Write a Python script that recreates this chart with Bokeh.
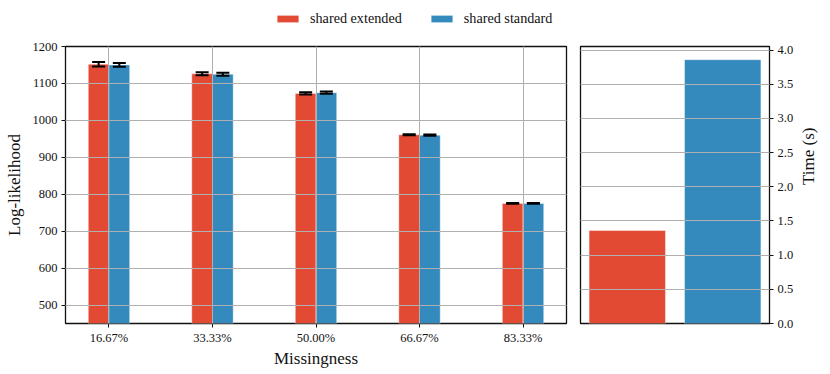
import math
from bokeh.plotting import figure
from bokeh.models import (ColumnDataSource, Range1d, FixedTicker, Whisker, TeeHead,
                          Legend, LegendItem, PrintfTickFormatter)
from bokeh.layouts import row, column
from bokeh.embed import file_html
from bokeh.resources import INLINE

# ---- data ----
categories = ["16.67%", "33.33%", "50.00%", "66.67%", "83.33%"]
ext_ll = [1152, 1126, 1073, 961, 775]
ext_err = [6, 4, 3, 1.5, 1]
std_ll = [1150, 1125, 1075, 960, 775]
std_err = [5, 4, 3, 1.5, 1]
methods = ["shared extended", "shared standard"]
times = [1.36, 3.86]
ll_ticks = [500, 600, 700, 800, 900, 1000, 1100, 1200]
time_ticks = [0.0, 0.5, 1.0, 1.5, 2.0, 2.5, 3.0, 3.5, 4.0]

FONT = "Liberation Serif"
RED = "#E24A33"
BLUE = "#348ABD"
GRID = "#b0b0b0"
COLORS = [RED, BLUE]

idx = list(range(len(categories)))
src_e = ColumnDataSource(dict(
    x=[i - 0.1 for i in idx], top=ext_ll,
    upper=[v + e for v, e in zip(ext_ll, ext_err)],
    lower=[v - e for v, e in zip(ext_ll, ext_err)]))
src_s = ColumnDataSource(dict(
    x=[i + 0.1 for i in idx], top=std_ll,
    upper=[v + e for v, e in zip(std_ll, std_err)],
    lower=[v - e for v, e in zip(std_ll, std_err)]))
tsrc = ColumnDataSource(dict(x=[0, 1], top=times, color=COLORS, name=methods))


def style(p):
    p.outline_line_color = "#111111"
    p.outline_line_width = 1.3
    for ax in p.axis:
        ax.axis_line_color = None
        ax.major_tick_line_color = "#111111"
        ax.major_tick_out = 4
        ax.major_tick_in = 0
        ax.minor_tick_line_color = None
        ax.major_label_text_font = FONT
        ax.major_label_text_font_size = "12.5px"
        ax.major_label_text_color = "#111111"
        ax.axis_label_text_font = FONT
        ax.axis_label_text_font_size = "17px"
        ax.axis_label_text_font_style = "normal"
        ax.axis_label_text_color = "#111111"
    for g in p.grid:
        g.grid_line_color = GRID
        g.grid_line_width = 1
        g.level = "guide"


LEG_H = 30

# ---- legend strip (bars kept outside its visible range; only the legend shows) ----
leg = figure(width=830, height=LEG_H, x_range=Range1d(10, 11), y_range=Range1d(10, 11),
             output_backend="svg", toolbar_location=None,
             x_axis_type=None, y_axis_type=None,
             min_border_left=0, min_border_right=0, min_border_top=0, min_border_bottom=0)
leg.outline_line_color = None
leg.xgrid.visible = False
leg.ygrid.visible = False
lr = leg.vbar(x="x", top="top", width=0.8, source=tsrc, fill_color="color",
              line_color="white", line_alpha=0.4)
legend = Legend(items=[LegendItem(label=m, renderers=[lr], index=i)
                       for i, m in enumerate(methods)],
                orientation="horizontal", location=(274, 3),
                glyph_width=27, glyph_height=9, label_standoff=9, spacing=26,
                padding=0, margin=0, border_line_color=None,
                background_fill_alpha=0, label_text_font=FONT,
                label_text_font_size="14.2px", label_text_color="#111111")
leg.add_layout(legend, "center")

# ---- log-likelihood panel ----
left = figure(width=573, height=371 - LEG_H, x_range=Range1d(-0.42, 4.42),
              y_range=Range1d(450, 1200), output_backend="svg",
              toolbar_location=None, min_border_left=65, min_border_right=7,
              min_border_top=46 - LEG_H, min_border_bottom=48)
left.vbar(x="x", top="top", width=0.2, source=src_e, fill_color=RED,
          line_color="white", line_alpha=0.4, line_width=1)
left.vbar(x="x", top="top", width=0.2, source=src_s, fill_color=BLUE,
          line_color="white", line_alpha=0.4, line_width=1)
for src in (src_e, src_s):
    w = Whisker(base="x", upper="upper", lower="lower", source=src,
                dimension="height", line_color="black", line_width=2,
                upper_head=TeeHead(size=13, line_width=2, line_color="black"),
                lower_head=TeeHead(size=13, line_width=2, line_color="black"),
                level="overlay")
    left.add_layout(w)

left.xaxis.ticker = FixedTicker(ticks=idx)
left.xaxis.major_label_overrides = {i: c for i, c in zip(idx, categories)}
left.yaxis.ticker = FixedTicker(ticks=ll_ticks)
left.xaxis.axis_label = "Missingness"
left.yaxis.axis_label = "Log-likelihood"
style(left)
left.xaxis.major_label_standoff = 3
left.xaxis.axis_label_standoff = 1
left.yaxis.major_label_standoff = 4
left.yaxis.axis_label_standoff = 6

# ---- time panel ----
right = figure(width=257, height=371 - LEG_H, x_range=Range1d(-0.49, 1.49),
               y_range=Range1d(0, 4.053), output_backend="svg",
               toolbar_location=None, y_axis_location="right",
               min_border_left=7, min_border_right=58,
               min_border_top=46 - LEG_H, min_border_bottom=48)
right.vbar(x="x", top="top", width=0.8, source=tsrc, fill_color="color",
           line_color="white", line_alpha=0.4, line_width=1)
right.xaxis.visible = False
right.xgrid.visible = False
right.yaxis.ticker = FixedTicker(ticks=time_ticks)
right.yaxis.formatter = PrintfTickFormatter(format="%.1f")
right.yaxis.axis_label = "Time (s)"
style(right)
right.yaxis.major_label_standoff = 4
right.yaxis.axis_label_standoff = 12
right.yaxis.axis_label_orientation = math.pi / 2

layout = column(leg, row(left, right))
open("out.html", "w").write(file_html(layout, INLINE))
